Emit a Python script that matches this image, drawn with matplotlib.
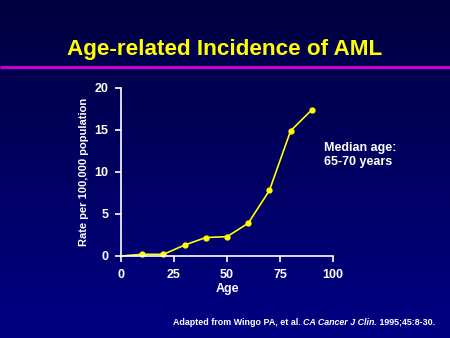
import numpy as np
import matplotlib
matplotlib.use("Agg")
import matplotlib.pyplot as plt

# data
ages = [0, 10, 20, 30, 40, 50, 60, 70, 80, 90]
rates = [0.0, 0.2, 0.2, 1.3, 2.2, 2.3, 3.9, 7.8, 14.9, 17.4]
xticks = [0, 25, 50, 75, 100]
yticks = [0, 5, 10, 15, 20]

plt.rcParams['font.family'] = ['Liberation Sans', 'DejaVu Sans']
plt.rcParams['font.weight'] = 'bold'

fig = plt.figure(figsize=(4.5, 3.38), dpi=100)

# background gradient, dark navy at top to brighter blue at bottom
bg = fig.add_axes([0, 0, 1, 1], zorder=-10)
grad = np.linspace(0, 1, 256).reshape(-1, 1)
top = np.array([0x00, 0x00, 0x40]) / 255
bot = np.array([0x00, 0x00, 0x84]) / 255
img = top + grad[..., None] * (bot - top)
bg.imshow(img, aspect='auto', extent=[0, 1, 0, 1], origin='upper')
bg.set_xlim(0, 1)
bg.set_ylim(0, 1)
bg.axis('off')

# title + magenta rule
fig.text(0.50, 1 - 50 / 338, 'Age-related Incidence of AML', color='#ffff00',
         fontsize=16.2, fontweight='bold', ha='center', va='center')
bg.plot([0, 1], [1 - 67 / 338, 1 - 67 / 338], color='#cc00cc', lw=2.2,
        solid_capstyle='butt')

ax = fig.add_axes([121 / 450, 1 - 256 / 338, 212 / 450, 168 / 338])
ax.patch.set_alpha(0)
ax.plot(ages, rates, color='#ffff00', lw=1.2, marker='o', markersize=3.5,
        markevery=list(range(1, len(ages))), clip_on=False)
ax.set_xlim(0, 100)
ax.set_ylim(0, 20)
ax.set_xticks(xticks)
ax.set_yticks(yticks)
for s in ['top', 'right']:
    ax.spines[s].set_visible(False)
for s in ['left', 'bottom']:
    ax.spines[s].set_color('white')
    ax.spines[s].set_linewidth(1.2)
ax.tick_params(colors='white', labelsize=9, length=4, width=1.2, pad=5)
for lab in ax.get_xticklabels() + ax.get_yticklabels():
    lab.set_fontweight('bold')
ax.set_xlabel('Age', color='white', fontsize=9, fontweight='bold', labelpad=2)
ax.set_ylabel('Rate per 100,000 population', color='white', fontsize=8,
              fontweight='bold', labelpad=4)

fig.text(324 / 450, 1 - 155 / 338, 'Median age:\n65-70 years', color='white',
         fontsize=9, fontweight='bold', ha='left', va='center', linespacing=1.3)

# footnote with italic journal name
fig.canvas.draw()
r = fig.canvas.get_renderer()
parts = [('Adapted from Wingo PA, et al. ', 'normal'),
         ('CA Cancer J Clin.', 'italic'),
         (' 1995;45:8-30.', 'normal')]
x = 173 / 450
y = 1 - 325 / 338
for txt, st in parts:
    t = fig.text(x, y, txt, color='white', fontsize=6.4, fontweight='bold',
                 fontstyle=st, ha='left', va='baseline')
    bb = t.get_window_extent(renderer=r)
    x += bb.width / fig.bbox.width

fig.savefig('out.png', dpi=100)
